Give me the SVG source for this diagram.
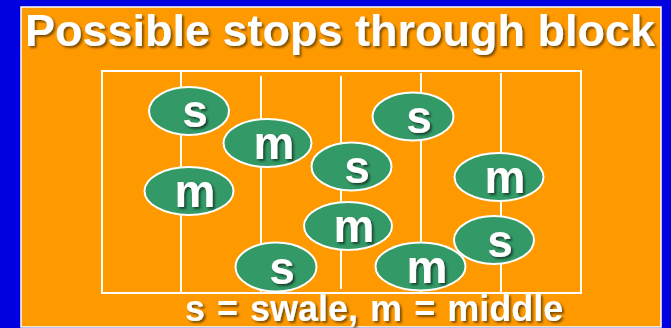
<svg xmlns="http://www.w3.org/2000/svg" width="671" height="328" viewBox="0 0 671 328">
  <defs>
    <filter id="shadow" x="-20%" y="-20%" width="140%" height="140%">
      <feDropShadow dx="2" dy="2" stdDeviation="0.8" flood-color="#5a3a00" flood-opacity="0.8"/>
    </filter>
    <filter id="shadowG" x="-20%" y="-20%" width="140%" height="140%">
      <feDropShadow dx="2" dy="2" stdDeviation="0.8" flood-color="#0d3320" flood-opacity="0.8"/>
    </filter>
  </defs>
  <style>
    .grid { stroke: #ffffff; stroke-width: 2; fill: none; }
    .node ellipse { fill: #339966; stroke: #ffffff; stroke-width: 2; }
    .node text { fill: #ffffff; font-family: "Liberation Sans", Arial, sans-serif; font-weight: bold; font-size: 46px; text-anchor: middle; filter: url(#shadowG); }
    .title { fill: #ffffff; font-family: "Liberation Sans", Arial, sans-serif; font-weight: bold; filter: url(#shadow); }
  </style>
  <rect x="0" y="0" width="671" height="328" fill="#0000e0"/>
  <rect x="21" y="7" width="640" height="320" fill="#ff9900" stroke="#ffffff" stroke-width="1.5"/>
  <text class="title" x="25" y="46" font-size="44" textLength="630" lengthAdjust="spacingAndGlyphs">Possible stops through block</text>

  <g id="block" class="grid">
    <rect x="102" y="71" width="479" height="222"/>
    <line x1="181" y1="71" x2="181" y2="293"/>
    <line x1="261" y1="76" x2="261" y2="293"/>
    <line x1="341" y1="76" x2="341" y2="289"/>
    <line x1="421" y1="73" x2="421" y2="293"/>
    <line x1="501" y1="73" x2="501" y2="293"/>
  </g>

  <g id="n1" class="node"><ellipse cx="189" cy="111" rx="40" ry="24"/><text x="195" y="127">s</text></g>
  <g id="n2" class="node"><ellipse cx="267.5" cy="143" rx="44" ry="24"/><text x="274" y="159">m</text></g>
  <g id="n3" class="node"><ellipse cx="189" cy="191" rx="44.5" ry="24"/><text x="195" y="207">m</text></g>
  <g id="n4" class="node"><ellipse cx="351.5" cy="166.5" rx="40" ry="24"/><text x="357" y="183">s</text></g>
  <g id="n5" class="node"><ellipse cx="413" cy="116.5" rx="40.5" ry="24"/><text x="419" y="133">s</text></g>
  <g id="n6" class="node"><ellipse cx="499" cy="177" rx="44.5" ry="24"/><text x="505" y="193">m</text></g>
  <g id="n7" class="node"><ellipse cx="348" cy="226" rx="44" ry="24"/><text x="354" y="242">m</text></g>
  <g id="n8" class="node"><ellipse cx="276" cy="267" rx="40.5" ry="24.5"/><text x="282" y="284">s</text></g>
  <g id="n9" class="node"><ellipse cx="420.5" cy="266.5" rx="45" ry="24"/><text x="427" y="283">m</text></g>
  <g id="n10" class="node"><ellipse cx="494" cy="240" rx="40" ry="24"/><text x="500" y="257">s</text></g>

  <g id="connectors"></g>

  <text class="title" x="185" y="321" font-size="36" word-spacing="2">s = swale, m = middle</text>
</svg>
